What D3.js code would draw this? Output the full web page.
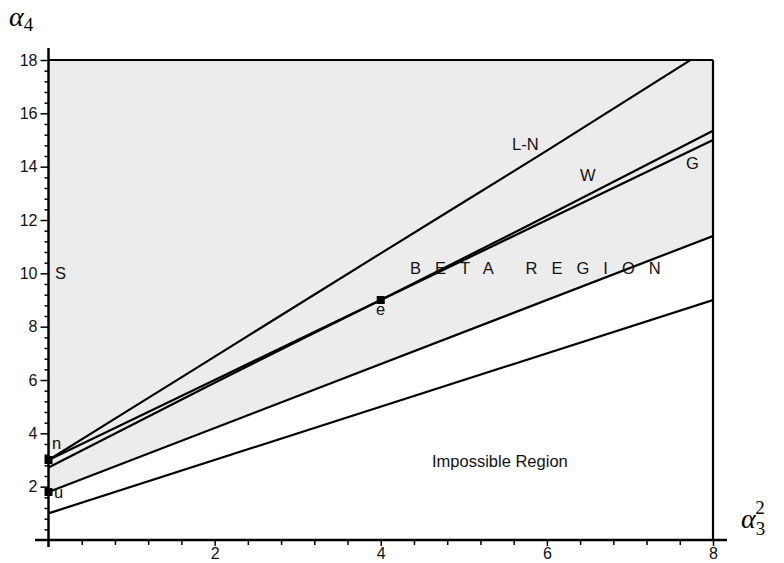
<!DOCTYPE html>
<html>
<head>
<meta charset="utf-8">
<script src="https://cdn.jsdelivr.net/npm/d3@7"></script>
<style>
  html, body { margin: 0; padding: 0; background: #fff; }
  svg { display: block; }
  .lbl { font-family: "Liberation Sans", Arial, sans-serif; font-size: 16.5px; fill: #111; }
  .tick text { font-family: "Liberation Sans", Arial, sans-serif; font-size: 16px; fill: #111; }
</style>
</head>
<body>
<svg id="chart" width="784" height="563"></svg>
<script>
// Pearson (beta1, beta2) moment-ratio diagram: alpha3^2 vs alpha4
const xMajorTicks = [2, 4, 6, 8];
const yMajorTicks = [2, 4, 6, 8, 10, 12, 14, 16, 18];
const minorStep = 0.4;

// boundary of the impossible region: alpha4 = 1 + alpha3^2
const impossibleLine = [[0, 1], [8, 9]];
// lower boundary of the shaded beta region, through the uniform point
const uniformLine = [[0, 1.8], [8, 11.4]];
// gamma (Pearson type III) line through the exponential point
const gammaLine = [[0, 3], [4, 9], [8, 15]];
// Weibull curve
const weibullLine = [[0, 2.72], [2, 5.9], [4, 9], [6, 12.15], [8, 15.35]];
// lognormal curve
const lognormalLine = [[0, 3], [1.6, 6.1], [4, 10.75], [6, 14.6], [7.73, 18]];

// special distributions: normal, uniform, exponential
const points = [
  { name: "n", x: 0, y: 3 },
  { name: "u", x: 0, y: 1.8 },
  { name: "e", x: 4, y: 9 }
];

const svg = d3.select("#chart");
const x = d3.scaleLinear().domain([0, 8]).range([48.5, 713]);
const y = d3.scaleLinear().domain([0, 18]).range([540, 60]);

// shaded region between the uniform line and the top of the frame
const shade = d3.area()
  .x(d => x(d[0]))
  .y0(d => y(d[1]))
  .y1(() => y(18));
svg.append("path").datum(uniformLine).attr("d", shade).attr("fill", "#ececec");

const line = d3.line().x(d => x(d[0])).y(d => y(d[1])).curve(d3.curveMonotoneX);
svg.append("defs").append("clipPath").attr("id", "plot")
  .append("rect").attr("x", x(0)).attr("y", y(18)).attr("width", x(8) - x(0)).attr("height", y(0) - y(18));

const curves = svg.append("g").attr("clip-path", "url(#plot)")
  .attr("fill", "none").attr("stroke", "#000").attr("stroke-width", 2.2);
[impossibleLine, uniformLine, gammaLine, weibullLine, lognormalLine].forEach(c => {
  curves.append("path").datum(c).attr("d", line);
});

// frame: top edge at 18 and right edge at 8
svg.append("line").attr("x1", x(0)).attr("x2", x(8)).attr("y1", y(18)).attr("y2", y(18))
  .attr("stroke", "#000").attr("stroke-width", 2.2);
svg.append("line").attr("x1", x(8)).attr("x2", x(8)).attr("y1", y(0)).attr("y2", y(18))
  .attr("stroke", "#000").attr("stroke-width", 2.2);

// minor tick values
const xMinor = d3.range(1, 21).map(i => +(i * minorStep).toFixed(2)).filter(v => !xMajorTicks.includes(v));
const yMinor = d3.range(1, 46).map(i => +(i * minorStep).toFixed(2)).filter(v => !yMajorTicks.includes(v));

// x axis
const gx = svg.append("g").attr("transform", `translate(0,${y(0)})`);
gx.call(d3.axisBottom(x).tickValues(xMajorTicks).tickSize(6).tickPadding(2).tickFormat(d3.format("d")));
gx.append("g").call(d3.axisBottom(x).tickValues(xMinor).tickSize(5).tickFormat(""));
gx.selectAll(".domain").remove();
gx.selectAll("line").attr("stroke", "#000").attr("stroke-width", 1.5);
gx.append("line").attr("x1", 35).attr("x2", 727).attr("y1", 0).attr("y2", 0)
  .attr("stroke", "#000").attr("stroke-width", 2.5);

// y axis
const gy = svg.append("g").attr("transform", `translate(${x(0)},0)`);
gy.call(d3.axisLeft(y).tickValues(yMajorTicks).tickSize(8).tickPadding(3).tickFormat(d3.format("d")));
gy.append("g").call(d3.axisLeft(y).tickValues(yMinor).tickSize(4).tickFormat(""));
gy.selectAll(".domain").remove();
gy.selectAll("line").attr("stroke", "#000").attr("stroke-width", 1.5);
gy.append("line").attr("x1", 0).attr("x2", 0).attr("y1", 547).attr("y2", 48)
  .attr("stroke", "#000").attr("stroke-width", 2.5);

// point markers
svg.selectAll("rect.pt").data(points).join("rect").attr("class", "pt")
  .attr("x", d => x(d.x) - 4).attr("y", d => y(d.y) - 4)
  .attr("width", 8).attr("height", 8).attr("fill", "#000");

// text labels
const labels = [
  { t: "n", x: 52, y: 449 },
  { t: "u", x: 54, y: 498 },
  { t: "e", x: 376, y: 315 },
  { t: "S", x: 55, y: 279 },
  { t: "L-N", x: 512, y: 150 },
  { t: "W", x: 580, y: 181 },
  { t: "G", x: 686, y: 169 },
  { t: "Impossible Region", x: 432, y: 467 }
];
svg.selectAll("text.lbl").data(labels).join("text").attr("class", "lbl")
  .attr("x", d => d.x).attr("y", d => d.y).text(d => d.t);
svg.append("text").attr("class", "lbl").attr("x", 410).attr("y", 274)
  .style("letter-spacing", "14px").text("BETA REGION");

// axis titles
const serif = "'Liberation Serif', 'DejaVu Serif', serif";
const ty = svg.append("text").attr("x", 9).attr("y", 26).attr("font-family", serif);
ty.append("tspan").attr("font-style", "italic").attr("font-size", 28).text("α");
ty.append("tspan").attr("font-size", 19).attr("dy", 5).text("4");

const tx = svg.append("text").attr("x", 741).attr("y", 528).attr("font-family", serif);
tx.append("tspan").attr("font-style", "italic").attr("font-size", 28).text("α");
tx.append("tspan").attr("font-size", 19).attr("dy", 7).text("3");
tx.append("tspan").attr("font-size", 19).attr("dx", -10).attr("dy", -21).text("2");
</script>
</body>
</html>
